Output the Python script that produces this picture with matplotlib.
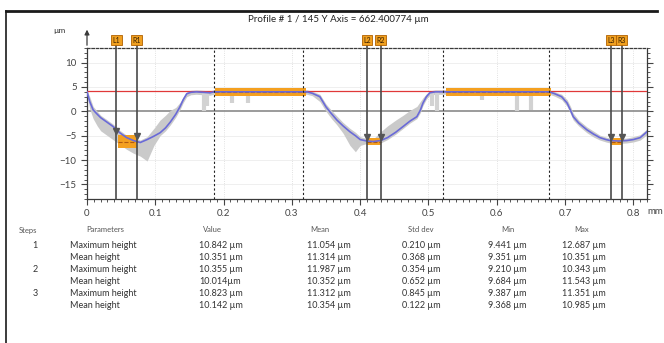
import numpy as np
import matplotlib
matplotlib.use("Agg")
import matplotlib.pyplot as plt
from matplotlib.ticker import MultipleLocator

plt.rcParams['font.family'] = ['Lato', 'DejaVu Sans']

# profile (mm, um)
prof_x = [0.000, 0.004, 0.009, 0.015, 0.020, 0.030, 0.038, 0.048, 0.058, 0.068,
          0.078, 0.088, 0.098, 0.107, 0.115, 0.122, 0.130, 0.136, 0.141, 0.146,
          0.152, 0.160, 0.170, 0.180, 0.186, 0.250, 0.322, 0.330, 0.341, 0.350,
          0.358, 0.366, 0.375, 0.385, 0.393, 0.400, 0.410, 0.419, 0.430, 0.440,
          0.452, 0.463, 0.473, 0.483, 0.488, 0.492, 0.497, 0.502, 0.510, 0.517,
          0.525, 0.600, 0.677, 0.685, 0.695, 0.703, 0.708, 0.712, 0.720, 0.732,
          0.742, 0.751, 0.760, 0.766, 0.778, 0.790, 0.800, 0.810, 0.820]
prof_mean = [4.0, 2.0, 0.3, -0.6, -1.3, -2.3, -3.1, -4.4, -5.4, -6.0,
             -6.4, -5.8, -5.1, -4.4, -3.4, -2.2, -0.6, 0.9, 2.4, 3.6,
             3.9, 4.0, 3.9, 3.8, 4.0, 4.0, 4.0, 3.7, 3.0, 0.9,
             -0.5, -1.8, -3.0, -4.2, -5.0, -5.8, -6.1, -6.2, -6.0, -5.4,
             -4.3, -3.1, -2.0, -1.1, 0.2, 1.7, 3.0, 3.8, 4.0, 4.0,
             4.0, 4.0, 4.0, 3.6, 3.0, 1.7, 0.2, -1.1, -2.4, -3.8,
             -4.7, -5.4, -5.8, -6.0, -6.1, -6.0, -5.8, -5.4, -4.2]
band_lo = [3.5, 0.5, -1.5, -3.0, -4.0, -5.0, -5.8, -6.8, -7.8, -8.6,
           -9.2, -10.2, -7.0, -5.0, -4.0, -2.8, -1.2, 0.3, 1.8, 3.0,
           3.4, 3.5, 3.4, 3.3, 3.5, 3.5, 3.5, 3.2, 2.0, 0.0,
           -1.5, -2.8, -4.5, -7.0, -8.3, -7.0, -6.6, -6.8, -6.5, -5.8,
           -4.7, -3.5, -2.4, -1.5, -0.3, 1.2, 2.5, 3.3, 3.5, 3.5,
           3.5, 3.5, 3.5, 3.1, 2.4, 1.0, -0.5, -1.8, -3.0, -4.4,
           -5.3, -5.9, -6.3, -6.5, -6.6, -6.5, -6.3, -5.9, -4.8]
band_hi = [4.3, 3.0, 1.0, 0.0, -0.8, -1.8, -2.6, -3.9, -4.9, -5.5,
           -5.9, -5.2, -3.5, -1.8, -0.8, 0.2, 0.8, 1.8, 3.0, 4.0,
           4.3, 4.4, 4.3, 4.2, 4.4, 4.4, 4.4, 4.1, 3.5, 1.5,
           0.2, -1.0, -2.3, -3.5, -4.3, -5.2, -5.6, -5.7, -4.2, -3.0,
           -1.8, -0.8, 0.2, 1.0, 2.0, 2.8, 3.6, 4.2, 4.4, 4.4,
           4.4, 4.4, 4.4, 4.0, 3.5, 2.4, 1.0, -0.4, -1.8, -3.2,
           -4.1, -4.9, -5.3, -5.5, -5.6, -5.5, -5.2, -4.8, -3.6]

# drop-outs on the plateaus
dip_x = [0.172, 0.176, 0.212, 0.236, 0.505, 0.512, 0.578, 0.630, 0.650]
dip_y = [0.0, 1.0, 1.7, 1.7, 1.0, 0.0, 2.3, 0.0, 0.2]

# selected areas
sel_x0 = [0.188, 0.525, 0.045, 0.410, 0.767]
sel_x1 = [0.320, 0.680, 0.073, 0.430, 0.783]
sel_lo = [3.2, 3.2, -7.6, -7.0, -7.0]
sel_hi = [4.7, 4.7, -4.8, -5.4, -5.5]

cursor_x = [0.043, 0.073, 0.410, 0.430, 0.767, 0.783]
cursor_y = [-4.0, -5.0, -5.2, -5.2, -5.3, -5.3]
cursor_lbl = ['L1', 'R1', 'L2', 'R2', 'L3', 'R3']

step_bounds = [0.186, 0.317, 0.522, 0.677]
ref_level = 4.2

# results table
steps = ['1', '', '2', '', '3', '']
params = ['Maximum height', 'Mean height'] * 3
vals = ['10.842 µm', '10.351 µm', '10.355 µm', '10.014µm', '10.823 µm', '10.142 µm']
means = ['11.054 µm', '11.314 µm', '11.987 µm', '10.352 µm', '11.312 µm', '10.354 µm']
stds = ['0.210 µm', '0.368 µm', '0.354 µm', '0.652 µm', '0.845 µm', '0.122 µm']
mins = ['9.441 µm', '9.351 µm', '9.210 µm', '9.684 µm', '9.387 µm', '9.368 µm']
maxs = ['12.687 µm', '10.351 µm', '10.343 µm', '11.543 µm', '11.351 µm', '10.985 µm']

W, H = 664, 343
fig = plt.figure(figsize=(W / 100, H / 100), dpi=100)
ax = fig.add_axes([87 / W, 1 - 199 / H, 560 / W, 151 / H])

dark = '#3a3a3a'

# grid
for gx in np.arange(0.1, 0.81, 0.1):
    ax.axvline(gx, color='#d8d8d8', lw=0.6, ls=':', zorder=0)
for gy in [10, 5, -5, -10, -15]:
    ax.axhline(gy, color='#ececec', lw=0.6, zorder=0)
ax.axhline(0, color='#8a8a8a', lw=1.2, zorder=1)

# gray profiles
ax.fill_between(prof_x, band_lo, band_hi, color='#cacaca', lw=0, zorder=2)
ax.vlines(dip_x, dip_y, 4.0, color='#d2d2d2', lw=3, zorder=2)

ax.axhline(ref_level, color='#e03838', lw=0.9, zorder=3)

for x0, x1, lo, hi in zip(sel_x0, sel_x1, sel_lo, sel_hi):
    ax.fill_between([x0, x1], lo, hi, color='#f4a020', lw=0, zorder=4)
    ax.plot([x0, x1], [(lo + hi) / 2] * 2, color='#b05a10', lw=0.8, ls='--', zorder=5)

ax.plot(prof_x, prof_mean, color='#6a6ad8', lw=1.2, zorder=6)

for bx in step_bounds:
    ax.axvline(bx, color='#222222', lw=0.8, ls=(0, (2, 2)), zorder=7)

for cx, cy, lbl in zip(cursor_x, cursor_y, cursor_lbl):
    ax.plot([cx, cx], [0, 1.03], color='#4a4a4a', lw=1.2, zorder=8,
            transform=ax.get_xaxis_transform(), clip_on=False)
    ax.plot(cx, cy, marker='v', color='#555555', ms=4.5, zorder=9)
    ax.text(cx, 1.052, lbl, transform=ax.get_xaxis_transform(), ha='center', va='center',
            fontsize=5, color='#3a2000', zorder=10,
            bbox=dict(boxstyle='square,pad=0.2', fc='#f0a020', ec='#b06000', lw=0.6))

ax.set_xlim(0, 0.82)
ax.set_ylim(-18, 13)
ax.set_xticks(np.arange(0, 0.81, 0.1))
ax.set_xticklabels(['0', '0.1', '0.2', '0.3', '0.4', '0.5', '0.6', '0.7', '0.8'])
ax.set_yticks([10, 5, 0, -5, -10, -15])
ax.xaxis.set_minor_locator(MultipleLocator(0.01))
ax.yaxis.set_minor_locator(MultipleLocator(1))
ax.tick_params(axis='both', labelsize=7, colors='#444444', length=4, width=0.8)
ax.tick_params(axis='x', which='minor', length=2, width=0.6, color=dark)
ax.tick_params(axis='y', which='minor', length=2, width=0.6, color=dark)
ax.tick_params(axis='y', right=True, which='both', direction='out')

for side in ['left', 'bottom', 'right']:
    ax.spines[side].set_color(dark)
    ax.spines[side].set_linewidth(0.9)
ax.spines['top'].set_color(dark)
ax.spines['top'].set_linestyle((0, (2, 1.5)))
ax.spines['top'].set_linewidth(0.9)

ax.annotate('', xy=(0, 1.14), xytext=(0, 1.0), xycoords='axes fraction',
            arrowprops=dict(arrowstyle='-|>', color=dark, lw=0.9, mutation_scale=7))

fig.text(59 / W, 1 - 31 / H, 'µm', fontsize=6, color='#333333', ha='center', va='center')
fig.text(655 / W, 1 - 212 / H, 'mm', fontsize=7, color='#444444', ha='center', va='center')
fig.text(338 / W, 1 - 20 / H, 'Profile # 1 / 145 Y Axis = 662.400774 µm',
         fontsize=7, color='#222222', ha='center', va='center')

# table
hdr_y = 230
heads = [('Steps', 28), ('Parameters', 105), ('Value', 212), ('Mean', 320),
         ('Std dev', 421), ('Min', 508), ('Max', 582)]
for txt, hx in heads:
    fig.text(hx / W, 1 - hdr_y / H, txt, fontsize=5.5, color='#555555', ha='center', va='center')

row_y = [245, 257, 269, 281, 293, 305]
cols = [(vals, 199), (means, 307), (stds, 402), (mins, 488), (maxs, 562)]
for i, ry in enumerate(row_y):
    yy = 1 - ry / H
    fig.text(35 / W, yy, steps[i], fontsize=6.5, color='#333333', ha='center', va='center')
    fig.text(70 / W, yy, params[i], fontsize=6.5, color='#333333', ha='left', va='center')
    for arr, cx in cols:
        fig.text(cx / W, yy, arr[i], fontsize=6.5, color='#333333', ha='left', va='center')

# panel frame (top and left edges)
fig.add_artist(plt.Line2D([6 / W, 657 / W], [1 - 11 / H, 1 - 11 / H], color='#1a1a1a', lw=2))
fig.add_artist(plt.Line2D([6 / W, 6 / W], [0, 1 - 11 / H], color='#1a1a1a', lw=1.2))

fig.savefig('out.png', dpi=100)
